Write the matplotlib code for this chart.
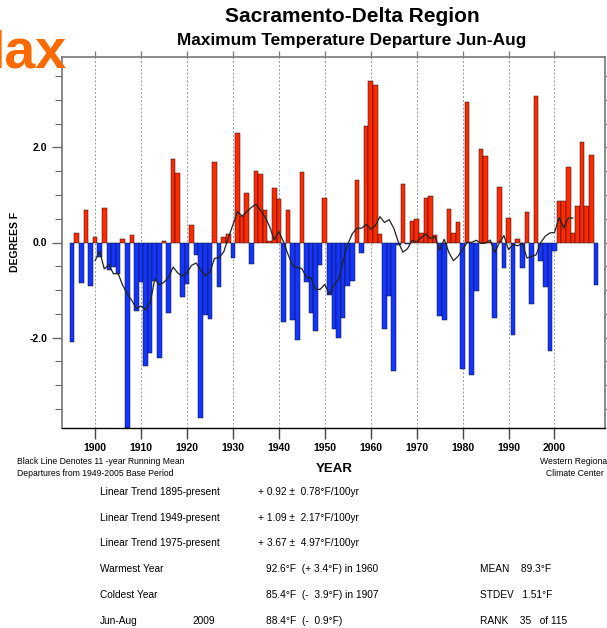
import numpy as np
import pandas as pd
import matplotlib
matplotlib.use('Agg')
import matplotlib.pyplot as plt
from matplotlib.ticker import MultipleLocator

plt.rcParams['font.family'] = ['Liberation Sans', 'DejaVu Sans']

# Jun-Aug max temperature departures (deg F), 1895-2009
years = np.arange(1895, 2010)
departures = [
    -2.10, 0.20, -0.86, 0.69, -0.91,                                # 1895-1899
    0.12, -0.30, 0.72, -0.58, -0.51, -0.66, 0.08, -3.90, 0.15, -1.45,   # 1900s
    -0.82, -2.59, -2.33, -0.80, -2.42, 0.04, -1.49, 1.75, 1.47, -1.14,  # 1910s
    -0.87, 0.36, -0.26, -3.70, -1.52, -1.60, 1.70, -0.93, 0.12, 0.17,   # 1920s
    -0.32, 2.30, 0.55, 1.04, -0.46, 1.51, 1.44, 0.69, 0.04, 1.14,       # 1930s
    0.91, -1.68, 0.68, -1.63, -2.05, 1.49, -0.84, -1.49, -1.87, -0.47,  # 1940s
    0.93, -1.10, -1.82, -2.01, -1.59, -0.91, -0.80, 1.32, -0.22, 2.44,  # 1950s
    3.40, 3.32, 0.18, -1.82, -1.13, -2.70, -0.05, 1.23, -0.03, 0.46,    # 1960s
    0.49, 0.20, 0.93, 0.97, 0.15, -1.54, -1.63, 0.70, 0.21, 0.44,       # 1970s
    -2.65, 2.95, -2.79, -1.02, 1.97, 1.81, 0.01, -1.58, 1.16, -0.53,    # 1980s
    0.52, -1.94, 0.07, -0.53, 0.65, -1.29, 3.07, -0.38, -0.94, -2.28,   # 1990s
    -0.17, 0.88, 0.88, 1.58, 0.21, 0.76, 2.11, 0.76, 1.84, -0.90,       # 2000s
]

trend_labels = ['Linear Trend 1895-present', 'Linear Trend 1949-present', 'Linear Trend 1975-present']
trend_values = ['+ 0.92 \u00b1  0.78\u00b0F/100yr', '+ 1.09 \u00b1  2.17\u00b0F/100yr', '+ 3.67 \u00b1  4.97\u00b0F/100yr']

dep = pd.Series(departures, index=years)
running = dep.rolling(11, center=True).mean()

W, H = 607, 628
def px(x, y):
    return x / W, 1 - y / H

fig = plt.figure(figsize=(W / 100, H / 100), dpi=100)
ax = fig.add_axes([62 / W, 1 - 428 / H, (605 - 62) / W, (428 - 57) / H])

colors = np.where(dep.values >= 0, '#FF2A00', '#1434FF')
ax.bar(years, dep.values, width=1.0, color=colors, edgecolor='#111111', linewidth=0.35, zorder=2)
ax.plot(years, running.values, color='#222222', linewidth=0.9, zorder=3)

for d in range(1900, 2010, 10):
    ax.axvline(d, color='#999999', linestyle=(0, (2, 2)), linewidth=0.7, zorder=1)

ax.set_xlim(1892.8, 2011.0)
ax.set_ylim(-3.9, 3.9)

decades = list(range(1900, 2010, 10))
ax.set_xticks(decades)
ax.set_xticklabels([str(d) for d in decades], fontweight='bold', fontsize=7.5)
ax.set_yticks([-2.0, 0.0, 2.0])
ax.set_yticklabels(['-2.0', '0.0', '2.0'], fontweight='bold', fontsize=7.5)
ax.yaxis.set_minor_locator(MultipleLocator(0.5))
ax.tick_params(axis='x', which='major', direction='out', length=8, width=1.0, pad=3,
               color='#444444')
ax.tick_params(axis='y', which='major', direction='out', length=7, width=1.0, right=True,
               color='#666666')
ax.tick_params(axis='y', which='minor', direction='out', length=5, width=0.8, right=True,
               color='#666666')

# short decade ticks along the top edge
top = ax.secondary_xaxis('top')
top.set_xticks(decades)
top.set_xticklabels([])
top.tick_params(direction='out', length=4, width=0.9, color='#777777')
top.spines['top'].set_visible(False)

for side in ['left', 'right', 'top']:
    ax.spines[side].set_color('#777777')
    ax.spines[side].set_linewidth(1.2)
ax.spines['bottom'].set_color('black')
ax.spines['bottom'].set_linewidth(1.0)

fig.text(*px(15, 242), 'DEGREES F', rotation=90, ha='center', va='center',
         fontweight='bold', fontsize=7.5)

# titles and heading
fig.text(*px(352, 17), 'Sacramento-Delta Region', ha='center', va='center',
         fontsize=15, fontweight='bold')
fig.text(*px(352, 40), 'Maximum Temperature Departure Jun-Aug', ha='center', va='center',
         fontsize=12.4, fontweight='bold')
fig.text(*px(66, 68), 'Max', ha='right', va='baseline', fontsize=40,
         fontweight='bold', color='#FF6A00')

# notes under the axis
fig.text(*px(17, 461), 'Black Line Denotes 11 -year Running Mean', ha='left', va='center', fontsize=6.2)
fig.text(*px(17, 473), 'Departures from 1949-2005 Base Period', ha='left', va='center', fontsize=6.2)
fig.text(*px(334, 469), 'YEAR', ha='center', va='center', fontsize=9.5, fontweight='bold')
fig.text(*px(540, 461), 'Western Regional', ha='left', va='center', fontsize=6.2)
fig.text(*px(575, 473), 'Climate Center', ha='center', va='center', fontsize=6.2)

# statistics block
fs = 7.3
row_y = [492, 518, 543, 569, 595, 621]
for i in range(3):
    fig.text(*px(100, row_y[i]), trend_labels[i], ha='left', va='center', fontsize=fs)
    fig.text(*px(258, row_y[i]), trend_values[i], ha='left', va='center', fontsize=fs)

fig.text(*px(100, row_y[3]), 'Warmest Year', ha='left', va='center', fontsize=fs)
fig.text(*px(266, row_y[3]), '92.6\u00b0F  (+ 3.4\u00b0F) in 1960', ha='left', va='center', fontsize=fs)
fig.text(*px(480, row_y[3]), 'MEAN    89.3\u00b0F', ha='left', va='center', fontsize=fs)

fig.text(*px(100, row_y[4]), 'Coldest Year', ha='left', va='center', fontsize=fs)
fig.text(*px(266, row_y[4]), '85.4\u00b0F  (-  3.9\u00b0F) in 1907', ha='left', va='center', fontsize=fs)
fig.text(*px(480, row_y[4]), 'STDEV   1.51\u00b0F', ha='left', va='center', fontsize=fs)

fig.text(*px(100, row_y[5]), 'Jun-Aug', ha='left', va='center', fontsize=fs)
fig.text(*px(192, row_y[5]), '2009', ha='left', va='center', fontsize=fs)
fig.text(*px(266, row_y[5]), '88.4\u00b0F  (-  0.9\u00b0F)', ha='left', va='center', fontsize=fs)
fig.text(*px(480, row_y[5]), 'RANK    35   of 115', ha='left', va='center', fontsize=fs)

fig.savefig('out.png', dpi=100)
